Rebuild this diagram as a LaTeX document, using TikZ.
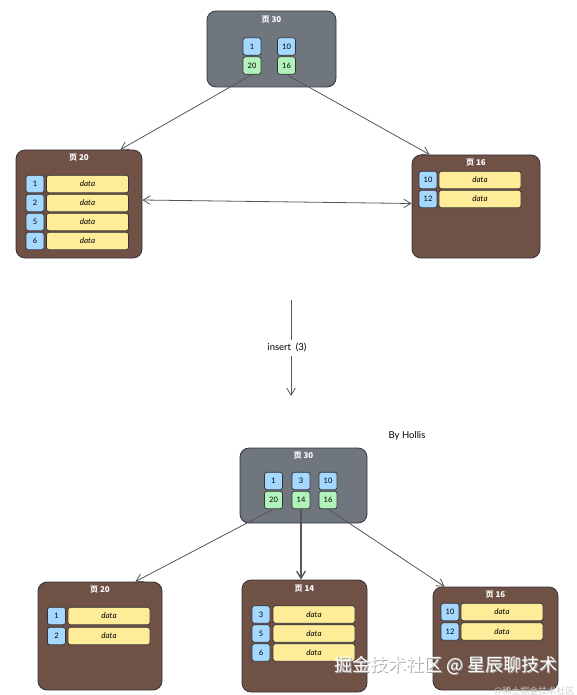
\documentclass[tikz,border=0pt]{standalone}
\usepackage{fontspec}
\setmainfont{Lato}
\newfontfamily\cjk{Noto Sans CJK SC}
\usetikzlibrary{positioning, arrows.meta}
\definecolor{root_gray}{RGB}{112, 118, 125}
\definecolor{page_brown}{RGB}{112, 81, 70}
\definecolor{edge_dark}{RGB}{52, 52, 56}
\definecolor{key_blue}{RGB}{165, 216, 255}
\definecolor{key_green}{RGB}{178, 242, 187}
\definecolor{data_yellow}{RGB}{255, 236, 153}
\definecolor{link_gray}{RGB}{85, 85, 90}
\tikzstyle{rootbox}=[draw=edge_dark, fill=root_gray, rounded corners=9pt, line width=0.8pt]
\tikzstyle{pagebox}=[draw=edge_dark, fill=page_brown, rounded corners=9pt, line width=0.8pt]
\tikzstyle{pagetitle}=[text=white, font=\cjk\fontsize{8}{8}\selectfont\bfseries, inner sep=0pt]
\tikzstyle{keycell}=[draw=edge_dark, rounded corners=2.5pt, line width=0.7pt, minimum width=18pt, minimum height=17.5pt, inner sep=0pt, font=\fontsize{7.5}{7.5}\selectfont]
\tikzstyle{datacell}=[draw=edge_dark, fill=data_yellow, rounded corners=2.5pt, line width=0.7pt, minimum width=82pt, minimum height=17.5pt, inner sep=0pt, font=\itshape\fontsize{8}{8}\selectfont]
\tikzstyle{link}=[-{Straight Barb[length=2.5mm, width=3mm]}, color=link_gray, line width=0.8pt]

\begin{document}
\begin{tikzpicture}[x=1pt, y=-1pt]
            \useasboundingbox (0, 0) rectangle (576, 695);
            % before the insert
            \node[rootbox, minimum width=129pt, minimum height=76pt] (rootA) at (271.5, 49) {};
            \node[pagetitle] (rootA_title) at (271.5, 20) {页 30};
            \node[keycell, fill=key_blue]  (rootA_k1)  at (252, 46.5) {1};
            \node[keycell, fill=key_green] (rootA_k20) at (252, 65.5) {20};
            \node[keycell, fill=key_blue]  (rootA_k10) at (286.5, 46.5) {10};
            \node[keycell, fill=key_green] (rootA_k16) at (286.5, 65.5) {16};

            \node[pagebox, minimum width=126pt, minimum height=108pt] (pageA) at (79, 204) {};
            \node[pagetitle] (pageA_title) at (79, 158) {页 20};
            \foreach \k/\y in {1/184, 2/203, 5/222, 6/241} {
                \node[keycell, fill=key_blue] (pageA_k\k) at (35, \y) {\k};
                \node[datacell] (pageA_d\k) at (87.5, \y) {data};
            }

            \node[pagebox, minimum width=128pt, minimum height=103pt] (pageB) at (476, 206.5) {};
            \node[pagetitle] (pageB_title) at (476, 163) {页 16};
            \foreach \k/\y in {10/180, 12/199} {
                \node[keycell, fill=key_blue] (pageB_k\k) at (428, \y) {\k};
                \node[datacell] (pageB_d\k) at (480, \y) {data};
            }

            \draw[link] (rootA_k20.south) -- ([xshift=-22pt]pageA.north east);
            \draw[link] (rootA_k16.south) -- ([xshift=18pt]pageB.north west);
            \draw[link, {Straight Barb[length=2.5mm, width=3mm]}-{Straight Barb[length=2.5mm, width=3mm]}]
                ([yshift=4pt]pageA.east) -- ([yshift=3pt]pageB.west);

            % the insert step
            \node[font=\fontsize{9.5}{9.5}\selectfont] (insert) at (287, 348) {insert \ (3)};
            \coordinate (insert_top) at (291, 300);
            \coordinate (insert_end) at (291, 396);
            \draw[color=link_gray, line width=0.9pt] (insert_top) -- ([xshift=4pt]insert.north);
            \draw[link] ([xshift=4pt]insert.south) -- (insert_end);
            \node[font=\fontsize{9.5}{9.5}\selectfont] (author) at (407, 436) {By Hollis};

            % after the insert
            \node[rootbox, minimum width=127pt, minimum height=75pt] (rootB) at (303.5, 485.5) {};
            \node[pagetitle] (rootB_title) at (303.5, 455.5) {页 30};
            \foreach \a/\b/\x in {1/20/273.5, 3/14/301, 10/16/328} {
                \node[keycell, fill=key_blue]  (rootB_k\a) at (\x, 481) {\a};
                \node[keycell, fill=key_green] (rootB_k\b) at (\x, 500) {\b};
            }

            \node[pagebox, minimum width=124pt, minimum height=108pt] (pageC) at (100, 636) {};
            \node[pagetitle] (pageC_title) at (100, 590) {页 20};
            \foreach \k/\y in {1/616, 2/636} {
                \node[keycell, fill=key_blue] (pageC_k\k) at (56.5, \y) {\k};
                \node[datacell] (pageC_d\k) at (109, \y) {data};
            }

            \node[pagebox, minimum width=125pt, minimum height=112pt] (pageD) at (304.5, 636) {};
            \node[pagetitle] (pageD_title) at (304.5, 588.5) {页 14};
            \foreach \k/\y in {3/614.5, 5/633.5, 6/652.5} {
                \node[keycell, fill=key_blue] (pageD_k\k) at (261, \y) {\k};
                \node[datacell] (pageD_d\k) at (314, \y) {data};
            }

            \node[pagebox, minimum width=125pt, minimum height=103pt] (pageE) at (495.5, 638.5) {};
            \node[pagetitle] (pageE_title) at (495.5, 594.5) {页 16};
            \foreach \k/\y in {10/612, 12/631.5} {
                \node[keycell, fill=key_blue] (pageE_k\k) at (450, \y) {\k};
                \node[datacell] (pageE_d\k) at (502, \y) {data};
            }

            \draw[link] (rootB_k20.south) -- ([xshift=-27pt]pageC.north east);
            \draw[link, line width=1.4pt] (rootB_k14.south) -- (rootB_k14.south |- pageD.north);
            \draw[link] (rootB_k16.south) -- ([xshift=12pt]pageE.north west);

            % watermark
            \node[text=gray!70, font=\cjk\fontsize{18}{18}\selectfont] (mark_shadow) at (447, 666) {掘金技术社区 @ 星辰聊技术};
            \node[text=white, font=\cjk\fontsize{18}{18}\selectfont] (mark) at (446, 665) {掘金技术社区 @ 星辰聊技术};
            \node[text=gray!40, font=\cjk\fontsize{9}{9}\selectfont, anchor=east] (mark_small) at (578, 691) {@稀土掘金技术社区};
        \end{tikzpicture}
\end{document}
